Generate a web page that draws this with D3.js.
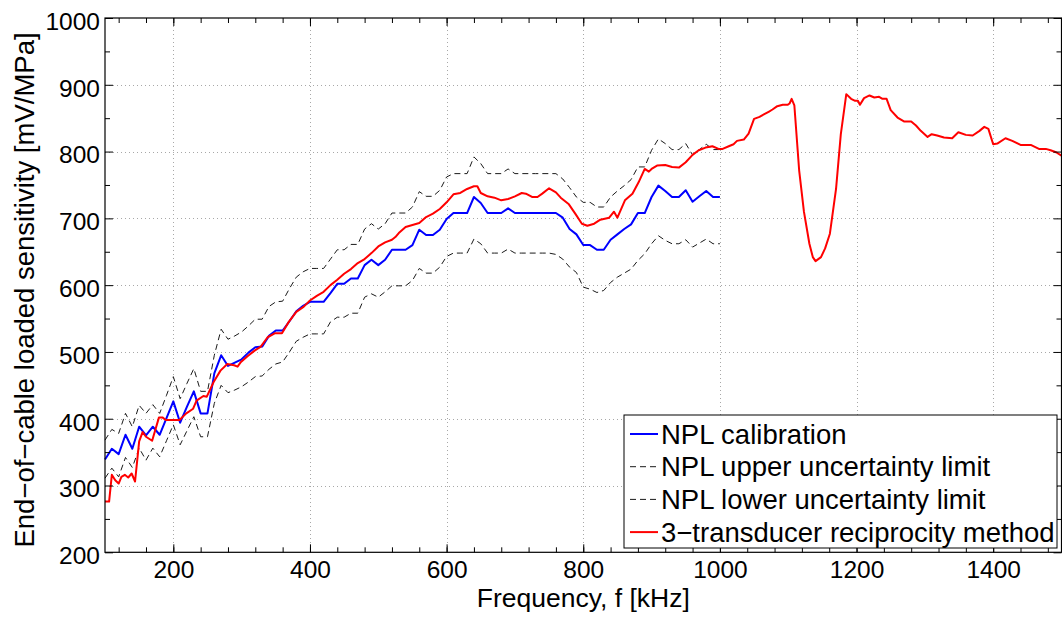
<!DOCTYPE html>
<html>
<head>
<meta charset="utf-8">
<script src="https://cdn.jsdelivr.net/npm/d3@7/dist/d3.min.js"></script>
<style>
  body { margin: 0; background: #fff; }
  svg { display: block; font-family: "Liberation Sans", Arial, Helvetica, sans-serif; }
</style>
</head>
<body>
<svg id="chart" width="1062" height="617"></svg>
<script>
// NPL calibration frequencies [kHz]
const nplFreq = [100, 110, 120, 130, 140, 150, 160, 170, 180, 190,
  200, 210, 220, 230, 240, 250, 260, 270, 280, 290,
  300, 310, 320, 330, 340, 350, 360, 370, 380, 390,
  400, 410, 420, 430, 440, 450, 460, 470, 480, 490,
  500, 510, 520, 530, 540, 550, 560, 570, 580, 590,
  600, 610, 620, 630, 640, 650, 660, 670, 680, 690,
  700, 710, 720, 730, 740, 750, 760, 770, 780, 790,
  800, 810, 820, 830, 840, 850, 860, 870, 880, 890,
  900, 910, 920, 930, 940, 950, 960, 970, 980, 990, 1000];

// NPL calibration [mV/MPa]
const nplValue = [339, 355, 347, 376, 355, 388, 375, 388, 376, 401,
  426, 394, 418, 441, 408, 408, 468, 495, 479, 484,
  489, 499, 507, 508, 524, 532, 532, 546, 561, 569,
  575, 575, 575, 588, 602, 602, 610, 610, 630, 638,
  630, 638, 653, 653, 653, 660, 683, 675, 675, 683,
  699, 708, 708, 708, 732, 723, 708, 708, 708, 715,
  708, 708, 708, 708, 708, 708, 708, 701, 684, 676,
  660, 660, 653, 653, 668, 676, 684, 691, 708, 708,
  732, 749, 741, 732, 732, 742, 725, 733, 741, 732, 732];

const nplUpper = [368, 384, 378, 408, 388, 420, 408, 421, 408, 435,
  463, 430, 453, 475, 441, 441, 495, 534, 519, 524,
  530, 539, 549, 549, 568, 575, 576, 595, 612, 620,
  625, 625, 625, 639, 653, 653, 661, 661, 684, 692,
  684, 692, 708, 708, 708, 717, 740, 733, 733, 742,
  762, 767, 767, 767, 792, 782, 767, 767, 767, 774,
  767, 767, 767, 767, 767, 767, 767, 759, 746, 732,
  724, 724, 717, 717, 732, 741, 749, 758, 777, 777,
  802, 819, 812, 803, 803, 812, 795, 803, 811, 803, 803];

const nplLower = [311, 326, 313, 342, 327, 356, 338, 356, 343, 367,
  391, 361, 382, 403, 373, 373, 423, 450, 439, 443,
  448, 455, 463, 464, 474, 482, 485, 500, 516, 522,
  527, 527, 527, 545, 552, 552, 558, 558, 582, 587,
  582, 590, 599, 599, 599, 607, 625, 618, 618, 627,
  643, 648, 648, 648, 669, 662, 648, 648, 648, 654,
  648, 648, 648, 648, 648, 648, 646, 639, 627, 619,
  597, 594, 589, 592, 604, 612, 618, 624, 637, 647,
  662, 674, 667, 662, 662, 668, 657, 663, 669, 662, 662];

// 3-transducer reciprocity method
const recipFreq = [100, 106, 110, 115, 120, 124, 129, 134, 139, 144,
  150, 155, 160, 169, 179, 184, 189, 199, 209, 219,
  229, 234, 244, 249, 259, 269, 279, 289, 294, 299,
  309, 319, 328, 338, 349, 359, 369, 380, 390, 395,
  400, 410, 420, 430, 440, 450, 460, 470, 480, 490,
  500, 510, 520, 525, 530, 540, 550, 560, 570, 580,
  590, 600, 610, 620, 630, 640, 645, 650, 660, 670,
  680, 690, 700, 710, 716, 725, 733, 740, 750, 760,
  767, 779, 789, 798, 806, 816, 825, 838, 845, 850,
  861, 872, 881, 890, 896, 900, 908, 920, 930, 940,
  950, 960, 969, 979, 989, 998, 1004, 1013, 1020, 1025,
  1035, 1042, 1050, 1058, 1065, 1072, 1077, 1084, 1092, 1099,
  1102, 1105, 1109, 1116, 1123, 1131, 1136, 1140, 1148, 1154,
  1161, 1170, 1177, 1185, 1192, 1198, 1202, 1205, 1211, 1219,
  1226, 1233, 1238, 1244, 1250, 1260, 1270, 1280, 1287, 1294,
  1304, 1310, 1318, 1328, 1340, 1349, 1360, 1370, 1380, 1387,
  1393, 1400, 1406, 1418, 1428, 1440, 1455, 1467, 1477, 1484,
  1492, 1500];

const recipValue = [276, 276, 316, 308, 303, 313, 316, 312, 318, 306,
  366, 380, 373, 367, 402, 402, 398, 398, 398, 408,
  415, 427, 434, 433, 455, 472, 482, 480, 478, 485,
  494, 502, 508, 522, 528, 528, 545, 560, 567, 572,
  577, 584, 590, 600, 608, 617, 624, 633, 639, 648,
  658, 664, 668, 672, 678, 687, 690, 693, 702, 707,
  714, 724, 736, 738, 744, 748, 748, 738, 733, 731,
  727, 729, 733, 738, 737, 732, 732, 737, 745, 739,
  731, 721, 706, 692, 689, 692, 698, 701, 710, 701,
  727, 737, 754, 774, 770, 774, 779, 780, 777, 776,
  784, 795, 802, 806, 808, 804, 804, 808, 811, 816,
  818, 827, 849, 852, 856, 860, 863, 868, 870, 870,
  872, 879, 869, 772, 710, 662, 642, 636, 642, 655,
  677, 744, 826, 886, 879, 876, 876, 870, 880, 884,
  881, 882, 879, 879, 862, 851, 845, 845, 839, 831,
  822, 826, 824, 821, 820, 829, 825, 824, 831, 837,
  834, 811, 812, 820, 816, 810, 810, 804, 804, 802,
  799, 794];

const xMajorTicks = [200, 400, 600, 800, 1000, 1200, 1400];
const yMajorTicks = [200, 300, 400, 500, 600, 700, 800, 900, 1000];

const legendLabels = ["NPL calibration", "NPL upper uncertainty limit",
  "NPL lower uncertainty limit", "3\u2212transducer reciprocity method"];

const width = 1062, height = 617;
const plot = { left: 105, right: 1061.5, top: 18, bottom: 552.3 };

const svg = d3.select("#chart");

const x = d3.scaleLinear().domain([100, 1500]).range([plot.left, plot.right]);
const y = d3.scaleLinear().domain([200, 1000]).range([plot.bottom, plot.top]);

const xMinor = d3.range(120, 1500, 40);
const yMinor = d3.range(250, 1000, 100);
const fmt = d3.format("d");

// grid
const grid = svg.append("g").attr("class", "grid")
  .attr("stroke", "#a8a8a8").attr("stroke-width", 1).attr("stroke-dasharray", "1,3");
grid.selectAll(".gx").data(xMajorTicks).enter().append("line")
  .attr("x1", d => Math.round(x(d)) + 0.5).attr("x2", d => Math.round(x(d)) + 0.5)
  .attr("y1", plot.top).attr("y2", plot.bottom);
grid.selectAll(".gy").data(yMajorTicks.slice(1, -1)).enter().append("line")
  .attr("y1", d => Math.round(y(d)) + 0.5).attr("y2", d => Math.round(y(d)) + 0.5)
  .attr("x1", plot.left).attr("x2", plot.right);

// series
const line = (xs, ys) => d3.line().x((d, i) => x(xs[i])).y(d => y(d))(ys);

const series = svg.append("g").attr("fill", "none").attr("stroke-linejoin", "round");
series.append("path").attr("d", line(nplFreq, nplUpper))
  .attr("stroke", "#1a1a1a").attr("stroke-width", 1).attr("stroke-dasharray", "6,4");
series.append("path").attr("d", line(nplFreq, nplLower))
  .attr("stroke", "#1a1a1a").attr("stroke-width", 1).attr("stroke-dasharray", "6,4");
series.append("path").attr("d", line(nplFreq, nplValue))
  .attr("stroke", "#0000ff").attr("stroke-width", 2);
series.append("path").attr("d", line(recipFreq, recipValue))
  .attr("stroke", "#ff0000").attr("stroke-width", 2);

// axes with inward ticks
function styleAxis(g) {
  g.select(".domain").remove();
  g.selectAll(".tick line").attr("stroke", "#000");
  g.selectAll(".tick text").attr("fill", "#000").style("font-size", "24.5px");
}

svg.append("g").attr("transform", `translate(0,${plot.bottom})`)
  .call(d3.axisBottom(x).tickValues(xMajorTicks).tickFormat(fmt).tickSize(-8).tickPadding(8))
  .call(styleAxis);
svg.append("g").attr("transform", `translate(0,${plot.bottom})`)
  .call(d3.axisBottom(x).tickValues(xMinor).tickSize(-5).tickFormat(""))
  .call(styleAxis);
svg.append("g").attr("transform", `translate(0,${plot.top})`)
  .call(d3.axisTop(x).tickValues(xMajorTicks).tickSize(-8).tickFormat(""))
  .call(styleAxis);
svg.append("g").attr("transform", `translate(0,${plot.top})`)
  .call(d3.axisTop(x).tickValues(xMinor).tickSize(-5).tickFormat(""))
  .call(styleAxis);

const yAxisG = svg.append("g").attr("transform", `translate(${plot.left},0)`)
  .call(d3.axisLeft(y).tickValues(yMajorTicks).tickFormat(fmt).tickSize(-8).tickPadding(5))
  .call(styleAxis);
yAxisG.selectAll(".tick text").attr("dy", "0.46em");
svg.append("g").attr("transform", `translate(${plot.left},0)`)
  .call(d3.axisLeft(y).tickValues(yMinor).tickSize(-5).tickFormat(""))
  .call(styleAxis);
svg.append("g").attr("transform", `translate(${plot.right},0)`)
  .call(d3.axisRight(y).tickValues(yMajorTicks).tickSize(-8).tickFormat(""))
  .call(styleAxis);
svg.append("g").attr("transform", `translate(${plot.right},0)`)
  .call(d3.axisRight(y).tickValues(yMinor).tickSize(-5).tickFormat(""))
  .call(styleAxis);

// frame
svg.append("rect")
  .attr("x", plot.left).attr("y", plot.top)
  .attr("width", plot.right - plot.left).attr("height", plot.bottom - plot.top)
  .attr("fill", "none").attr("stroke", "#000").attr("stroke-width", 1.2);

// axis titles
svg.append("text")
  .attr("x", (plot.left + plot.right) / 2).attr("y", 607)
  .attr("text-anchor", "middle").style("font-size", "26.5px")
  .text("Frequency, f [kHz]");
svg.append("text")
  .attr("transform", "translate(33.5,290) rotate(-90)")
  .attr("text-anchor", "middle").style("font-size", "27.5px")
  .text("End\u2212of\u2212cable loaded sensitivity [mV/MPa]");

// legend
const legend = svg.append("g").attr("transform", "translate(624,415)");
legend.append("rect").attr("width", 433).attr("height", 133)
  .attr("fill", "#fff").attr("stroke", "#000").attr("stroke-width", 1);
const legendStyles = [
  { color: "#0000ff", dash: null, w: 2 },
  { color: "#1a1a1a", dash: "6,4", w: 1 },
  { color: "#1a1a1a", dash: "6,4", w: 1 },
  { color: "#ff0000", dash: null, w: 2 }
];
const rows = legend.selectAll(".row").data(legendLabels).enter().append("g")
  .attr("transform", (d, i) => `translate(0,${19 + i * 32.7})`);
rows.append("line").attr("x1", 6).attr("x2", 34).attr("y1", 0).attr("y2", 0)
  .attr("stroke", (d, i) => legendStyles[i].color)
  .attr("stroke-width", (d, i) => legendStyles[i].w)
  .attr("stroke-dasharray", (d, i) => legendStyles[i].dash);
rows.append("text").attr("x", 37).attr("y", 9.5)
  .style("font-size", "27.5px").text(d => d);
</script>
</body>
</html>
